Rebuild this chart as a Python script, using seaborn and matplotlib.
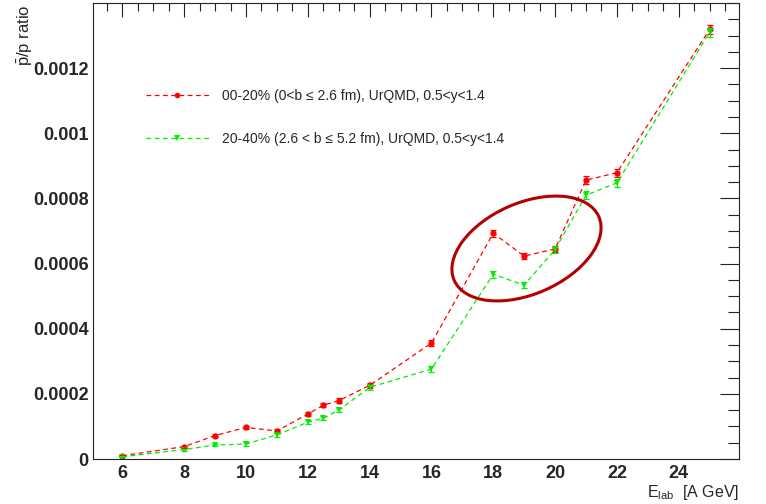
import matplotlib
matplotlib.use("Agg")
import numpy as np
import pandas as pd
import seaborn as sns
import matplotlib.pyplot as plt
from matplotlib.patches import Ellipse
from matplotlib.transforms import Affine2D
from matplotlib.lines import Line2D
from matplotlib.ticker import MultipleLocator, FixedLocator, FuncFormatter

# ---- data ----
e_lab = [6, 8, 9, 10, 11, 12, 12.5, 13, 14, 16, 18, 19, 20, 21, 22, 25]
ratio_0_20 = [0.000010, 0.000038, 0.000072, 0.000097, 0.000086, 0.000138, 0.000165, 0.000179,
              0.000226, 0.000356, 0.000693, 0.000623, 0.000645, 0.000856, 0.000879, 0.001319]
ratio_20_40 = [0.000007, 0.000029, 0.000043, 0.000046, 0.000074, 0.000113, 0.000125, 0.000150,
               0.000220, 0.000276, 0.000567, 0.000534, 0.000643, 0.000810, 0.000848, 0.001310]
err_0_20 = [2e-6, 3e-6, 4e-6, 5e-6, 5e-6, 6e-6, 6e-6, 7e-6, 7e-6, 8e-6, 1.0e-5, 1.0e-5, 1.0e-5,
            1.2e-5, 1.2e-5, 1.3e-5]
err_20_40 = [2e-6, 3e-6, 4e-6, 5e-6, 5e-6, 6e-6, 6e-6, 7e-6, 7e-6, 8e-6, 1.0e-5, 1.0e-5, 1.0e-5,
             1.2e-5, 1.2e-5, 1.3e-5]
labels = ["00-20% (0<b \u2264 2.6 fm), UrQMD, 0.5<y<1.4",
          "20-40% (2.6 < b \u2264 5.2 fm), UrQMD, 0.5<y<1.4"]
y_ticks = [0, 0.0002, 0.0004, 0.0006, 0.0008, 0.001, 0.0012]

sns.set_style("white")
plt.rcParams['font.family'] = ['Liberation Sans', 'DejaVu Sans']
plt.rcParams['mathtext.fontset'] = 'custom'
plt.rcParams['mathtext.rm'] = 'Liberation Sans'
plt.rcParams['mathtext.it'] = 'Liberation Sans:italic'
plt.rcParams['mathtext.bf'] = 'Liberation Sans:bold'

fig = plt.figure(figsize=(7.66, 5.04), dpi=100)
ax = fig.add_axes([93 / 766, 45 / 504, 646 / 766, 456 / 504])

df = pd.DataFrame({
    "E": e_lab + e_lab,
    "ratio": ratio_0_20 + ratio_20_40,
    "series": [labels[0]] * len(e_lab) + [labels[1]] * len(e_lab),
})
colors = {labels[0]: "#ff0000", labels[1]: "#00ee00"}
dash = (3.8, 2.8)
sns.lineplot(data=df, x="E", y="ratio", hue="series", style="series",
             palette=colors, markers={labels[0]: "o", labels[1]: "v"},
             dashes={labels[0]: dash, labels[1]: dash},
             markersize=4.5, markeredgewidth=0, linewidth=0.9,
             errorbar=None, legend=False, ax=ax)
ax.errorbar(e_lab, ratio_0_20, yerr=err_0_20, fmt="none", ecolor="#ff0000",
            elinewidth=0.9, capsize=2, capthick=0.9)
ax.errorbar(e_lab, ratio_20_40, yerr=err_20_40, fmt="none", ecolor="#00ee00",
            elinewidth=0.9, capsize=2, capthick=0.9)

ax.set_xlim(5.05, 25.95)
ax.set_ylim(0, 0.0014)
ax.xaxis.set_major_locator(MultipleLocator(2))
ax.xaxis.set_minor_locator(MultipleLocator(0.5))
ax.yaxis.set_major_locator(FixedLocator(y_ticks))
ax.yaxis.set_minor_locator(MultipleLocator(0.00005))
ax.yaxis.set_major_formatter(FuncFormatter(lambda v, p: "%g" % round(v, 6)))
ax.set_xlabel("")
ax.set_ylabel("")

ax.tick_params(axis="both", which="both", direction="in", top=True, right=True,
               width=0.8, color="#222222")
ax.tick_params(axis="x", which="major", length=10, pad=4)
ax.tick_params(axis="x", which="minor", length=5.5)
ax.tick_params(axis="y", which="major", length=14, pad=3)
ax.tick_params(axis="y", which="minor", length=8)
for lab in ax.get_xticklabels() + ax.get_yticklabels():
    lab.set_fontsize(13)
    lab.set_fontweight("bold")
for s in ax.spines.values():
    s.set_linewidth(0.8)
    s.set_color("#222222")

fig.text(25 / 766, 1 - 5 / 504, r"$\bar{\mathrm{p}}$/p ratio", rotation=90,
         ha="center", va="top", fontsize=12)
fig.text(739 / 766, 7 / 504, r"E$_{\mathrm{lab}}$  [A GeV]", ha="right",
         va="baseline", fontsize=11.5)

handles = [Line2D([], [], color="#ff0000", ls=(0, dash), lw=0.9, marker="o",
                  ms=4, mew=0),
           Line2D([], [], color="#00ee00", ls=(0, dash), lw=0.9, marker="v",
                  ms=4, mew=0)]
ax.legend(handles, labels, loc="upper left", bbox_to_anchor=(146 / 766, 1 - 89 / 504),
          bbox_transform=fig.transFigure, frameon=False, fontsize=10,
          handlelength=4.5, handletextpad=1.0, labelspacing=2.1,
          borderpad=0, borderaxespad=0)

ell = Ellipse((526.5, 504 - 248.5), width=158, height=91, angle=23.8,
              transform=Affine2D().scale(1 / 766, 1 / 504) + fig.transFigure,
              fill=False, ec="#b30000", lw=2.2)
fig.add_artist(ell)

fig.savefig("out.png", dpi=100)
